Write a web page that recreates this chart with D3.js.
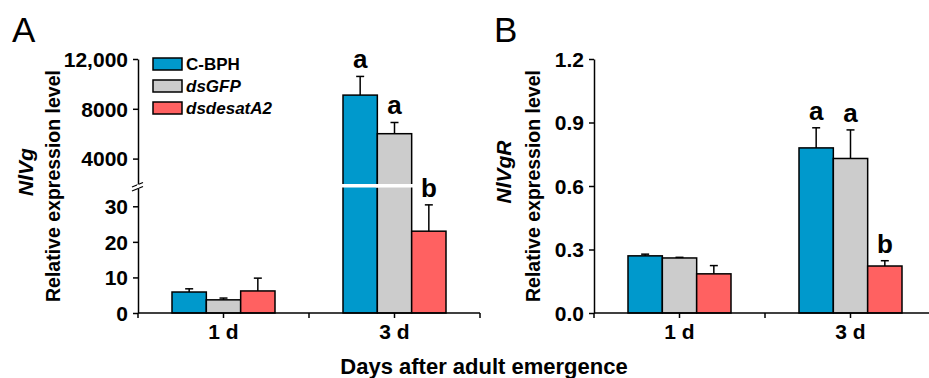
<!DOCTYPE html>
<html>
<head>
<meta charset="utf-8">
<script src="https://cdn.jsdelivr.net/npm/d3@7/dist/d3.min.js"></script>
<style>
  body { margin: 0; background: #fff; }
  svg { display: block; }
  text { font-family: Arial, "Liberation Sans", sans-serif; }
</style>
</head>
<body>
<div class="chart"></div>
<script>
var days = ["1 d", "3 d"];
var treatments = ["C-BPH", "dsGFP", "dsdesatA2"];
var treatmentItalic = [false, true, true];
var colors = ["#0099cc", "#cccccc", "#ff6161"];

// panel A - NlVg (broken axis)
var vgMean = [[5.9, 3.7, 6.2], [9100, 6000, 23]];
var vgErr = [[0.9, 0.5, 3.6], [1500, 900, 7.4]];
var vgLetters = [["", "", ""], ["a", "a", "b"]];
var vgUpperTicks = [4000, 8000, 12000];
var vgLowerTicks = [0, 10, 20, 30];

// panel B - NlVgR
var vgrMean = [[0.27, 0.26, 0.185], [0.78, 0.73, 0.222]];
var vgrErr = [[0.008, 0.003, 0.039], [0.095, 0.135, 0.025]];
var vgrLetters = [["", "", ""], ["a", "a", "b"]];
var vgrTicks = [0, 0.3, 0.6, 0.9, 1.2];

var width = 929, height = 378;
var svg = d3.select(".chart").append("svg")
  .attr("width", width)
  .attr("height", height);

var baseY = 313;

function drawXAxis(g, x) {
  var x0 = x.range()[0], x1 = x.range()[1];
  g.append("line")
    .attr("x1", x0).attr("x2", x1)
    .attr("y1", baseY).attr("y2", baseY)
    .style("stroke", "#000").style("stroke-width", 1.5);
  var tickPos = [x0];
  days.forEach(function(d) {
    tickPos.push(x(d) + x.bandwidth() / 2);
    tickPos.push(x(d) + x.bandwidth());
  });
  g.selectAll(".xtick").data(tickPos).enter().append("line")
    .attr("x1", function(d) { return d; })
    .attr("x2", function(d) { return d; })
    .attr("y1", baseY).attr("y2", baseY + 5)
    .style("stroke", "#000").style("stroke-width", 1.5);
  g.selectAll(".xlab").data(days).enter().append("text")
    .text(function(d) { return d; })
    .attr("x", function(d) { return x(d) + x.bandwidth() / 2; })
    .attr("y", baseY + 26)
    .attr("text-anchor", "middle")
    .attr("font-size", "21px")
    .attr("font-weight", "bold");
}

function styleYAxis(g) {
  g.attr("font-family", "Arial, 'Liberation Sans', sans-serif")
    .attr("font-size", "21px")
    .attr("font-weight", "bold");
  g.selectAll("path, line").style("stroke", "#000").style("stroke-width", 1.5);
  g.selectAll("text").attr("fill", "#000").attr("dy", "0.35em");
}

function yTitles(g, xTitle, xGene, gene) {
  g.append("text")
    .attr("transform", "translate(" + xTitle + ",186) rotate(-90)")
    .attr("text-anchor", "middle")
    .attr("font-size", "19.5px")
    .attr("font-weight", "bold")
    .text("Relative expression level");
  g.append("text")
    .attr("transform", "translate(" + xGene + ",172) rotate(-90)")
    .attr("text-anchor", "middle")
    .attr("font-size", "21px")
    .attr("font-weight", "bold")
    .attr("font-style", "italic")
    .text(gene);
}

function drawBars(g, x, x1, means, errs, letters, yOf, broken) {
  days.forEach(function(day, i) {
    var cx = x(day) + x.bandwidth() / 2;
    var grp = g.append("g").attr("transform", "translate(" + cx + ",0)");
    var rows = treatments.map(function(t, j) {
      return {t: t, j: j, v: means[i][j], e: errs[i][j], l: letters[i][j]};
    });
    grp.selectAll("rect.bar").data(rows).enter().append("rect")
      .attr("class", "bar")
      .attr("x", function(d) { return x1(d.t); })
      .attr("width", x1.bandwidth())
      .attr("y", function(d) { return yOf(d.v); })
      .attr("height", function(d) { return baseY - yOf(d.v); })
      .style("fill", function(d) { return colors[d.j]; })
      .style("stroke", "#000")
      .style("stroke-width", 1.5);
    grp.selectAll("line.err").data(rows).enter().append("line")
      .attr("x1", function(d) { return x1(d.t) + x1.bandwidth() / 2; })
      .attr("x2", function(d) { return x1(d.t) + x1.bandwidth() / 2; })
      .attr("y1", function(d) { return yOf(d.v); })
      .attr("y2", function(d) { return yOf(d.v + d.e); })
      .style("stroke", "#000").style("stroke-width", 1.5);
    grp.selectAll("line.cap").data(rows).enter().append("line")
      .attr("x1", function(d) { return x1(d.t) + x1.bandwidth() / 2 - 4; })
      .attr("x2", function(d) { return x1(d.t) + x1.bandwidth() / 2 + 4; })
      .attr("y1", function(d) { return yOf(d.v + d.e); })
      .attr("y2", function(d) { return yOf(d.v + d.e); })
      .style("stroke", "#000").style("stroke-width", 1.5);
    if (broken) {
      grp.selectAll("rect.gap").data(rows.filter(function(d) { return d.v > broken.max; }))
        .enter().append("rect")
        .attr("x", function(d) { return x1(d.t) - 1.5; })
        .attr("width", x1.bandwidth() + 3)
        .attr("y", broken.y0)
        .attr("height", broken.y1 - broken.y0)
        .style("fill", "#fff");
    }
    grp.selectAll("text.sig").data(rows).enter().append("text")
      .text(function(d) { return d.l; })
      .attr("x", function(d) { return x1(d.t) + x1.bandwidth() / 2; })
      .attr("y", function(d) { return yOf(d.v + d.e) - 8; })
      .attr("text-anchor", "middle")
      .attr("font-size", "26px")
      .attr("font-weight", "bold");
  });
}

// ---------- Panel A ----------
var gA = svg.append("g");
var xA = d3.scaleBand().domain(days).range([138, 480]);
var x1A = d3.scaleBand().domain(treatments).range([-51.5, 51.5]);
var yLow = d3.scaleLinear().domain([0, 35]).range([baseY, 188.5]);
var yUp = d3.scaleLinear().domain([2000, 12000]).range([183.5, 59]);
function yA(v) { return v <= 35 ? yLow(v) : yUp(v); }

drawBars(gA, xA, x1A, vgMean, vgErr, vgLetters, yA, {max: 35, y0: 184, y1: 187.5});

gA.append("g").attr("transform", "translate(138,0)")
  .call(d3.axisLeft(yUp).tickValues(vgUpperTicks).tickSize(5).tickSizeOuter(0).tickPadding(5)
    .tickFormat(function(d) { return d === 12000 ? "12,000" : d; }))
  .call(styleYAxis);
gA.append("g").attr("transform", "translate(138,0)")
  .call(d3.axisLeft(yLow).tickValues(vgLowerTicks).tickSize(5).tickSizeOuter(0).tickPadding(5))
  .call(styleYAxis);
// break marks
gA.selectAll(".brk").data([0, 4]).enter().append("line")
  .attr("x1", 132).attr("x2", 143)
  .attr("y1", function(d) { return 187 + d; })
  .attr("y2", function(d) { return 182.5 + d; })
  .style("stroke", "#000").style("stroke-width", 1.3);
gA.append("rect").attr("x", 137).attr("y", 184.5).attr("width", 2).attr("height", 3).style("fill", "#fff");

drawXAxis(gA, xA);
yTitles(gA, 60, 33, "NlVg");

gA.append("text").attr("x", 12).attr("y", 42).attr("font-size", "35px").text("A");

// legend
var legend = gA.append("g").attr("transform", "translate(153,58)");
var leg = legend.selectAll("g").data(treatments).enter().append("g")
  .attr("transform", function(d, i) { return "translate(0," + (i * 22) + ")"; });
leg.append("rect")
  .attr("width", 29).attr("height", 12)
  .style("fill", function(d, i) { return colors[i]; })
  .style("stroke", "#000").style("stroke-width", 1.5);
leg.append("text")
  .attr("x", 33).attr("y", 12)
  .attr("font-size", "17px")
  .attr("font-weight", "bold")
  .attr("font-style", function(d, i) { return treatmentItalic[i] ? "italic" : "normal"; })
  .text(function(d) { return d; });

// ---------- Panel B ----------
var gB = svg.append("g");
var xB = d3.scaleBand().domain(days).range([594, 936]);
var x1B = d3.scaleBand().domain(treatments).range([-51.5, 51.5]);
var yB = d3.scaleLinear().domain([0, 1.2]).range([baseY, 59]);

drawBars(gB, xB, x1B, vgrMean, vgrErr, vgrLetters, yB, null);

gB.append("g").attr("transform", "translate(594,0)")
  .call(d3.axisLeft(yB).tickValues(vgrTicks).tickSize(5).tickSizeOuter(0).tickPadding(5)
    .tickFormat(d3.format(".1f")))
  .call(styleYAxis);

drawXAxis(gB, xB);
yTitles(gB, 540, 511, "NlVgR");

gB.append("text").attr("x", 494).attr("y", 42).attr("font-size", "35px").text("B");

// shared x title
svg.append("text")
  .attr("x", 484).attr("y", 374)
  .attr("text-anchor", "middle")
  .attr("font-size", "22px")
  .attr("font-weight", "bold")
  .text("Days after adult emergence");
</script>
</body>
</html>
